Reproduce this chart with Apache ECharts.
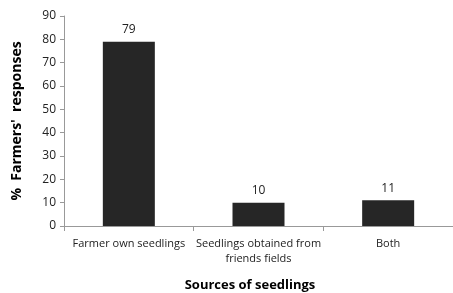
<!DOCTYPE html>
<html>
<head>
<meta charset="utf-8">
<script src="https://cdn.jsdelivr.net/npm/echarts@6/dist/echarts.min.js"></script>
<style>
  html, body { margin: 0; padding: 0; background: #fff; }
  #main { width: 453px; height: 293px; }
</style>
</head>
<body>
<div id="main"></div>
<script>
var categories = ['Farmer own seedlings', 'Seedlings obtained from\nfriends fields', 'Both'];
var responses = [79, 10, 11];
var yTicks = [0, 10, 20, 30, 40, 50, 60, 70, 80, 90];

var font = 'Open Sans';
var myChart = echarts.init(document.getElementById('main'));
var option = {
    animation: false,
    title: {
        text: 'Sources of seedlings',
        left: 245,
        top: 274,
        textAlign: 'center',
        textStyle: { fontFamily: font, fontSize: 13, fontWeight: 'bold', color: '#000' }
    },
    grid: { left: 64, top: 16, width: 396, height: 210 },
    xAxis: {
        type: 'category',
        data: categories,
        axisLine: { lineStyle: { color: '#999' } },
        axisTick: { show: true, length: 5, lineStyle: { color: '#999' } },
        axisLabel: { color: '#222', fontFamily: font, fontSize: 11, margin: 10, lineHeight: 15, interval: 0 }
    },
    yAxis: {
        type: 'value',
        min: yTicks[0],
        max: yTicks[yTicks.length - 1],
        interval: 10,
        name: "%  Farmers'  responses",
        nameLocation: 'middle',
        nameGap: 40,
        nameTextStyle: { fontFamily: font, fontSize: 14, fontWeight: 'bold', color: '#000' },
        axisLine: { show: true, lineStyle: { color: '#999' } },
        axisTick: { show: true, length: 4, lineStyle: { color: '#999' } },
        axisLabel: { color: '#222', fontFamily: font, fontSize: 12, margin: 8 },
        splitLine: { show: false }
    },
    series: [{
        type: 'bar',
        data: responses,
        barWidth: 52,
        itemStyle: { color: '#262626' },
        label: { show: true, position: 'top', distance: 6, color: '#222', fontFamily: font, fontSize: 12 }
    }]
};
myChart.setOption(option);
</script>
</body>
</html>
